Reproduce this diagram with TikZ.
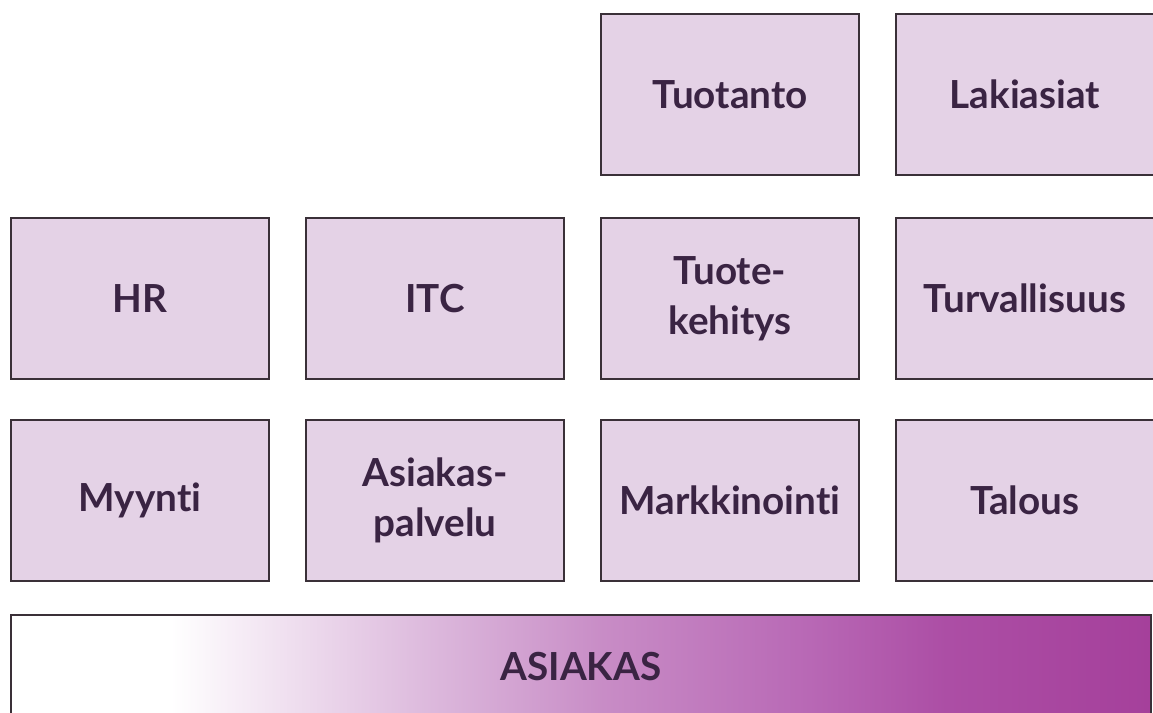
\documentclass[tikz,border=0pt]{standalone}
\usepackage{fontspec}
\setmainfont{Lato}[Ligatures=NoCommon]
\usetikzlibrary{positioning}
\definecolor{laatikko}{HTML}{E4D2E6}
\definecolor{reuna}{HTML}{3A3038}
\definecolor{teksti}{HTML}{3A2443}
\definecolor{vaalea}{HTML}{DCB8DC}
\definecolor{keski}{HTML}{C88CC6}
\definecolor{tumma}{HTML}{B868B5}
\definecolor{syva}{HTML}{AC4EA5}
\definecolor{violetti}{HTML}{A5409B}
\pgfdeclarehorizontalshading{asiakasliuku}{100bp}{color(0bp)=(white); color(32bp)=(white); color(43.5bp)=(vaalea); color(51bp)=(keski); color(60bp)=(tumma); color(66bp)=(syva); color(75bp)=(violetti); color(100bp)=(violetti)}
\tikzset{
	every node/.style={
		font=\fontsize{22}{28.5}\selectfont\bfseries,
		text=teksti
	},
	osasto/.style={
		shape=rectangle,
		minimum width=5.16cm,
		minimum height=3.22cm,
		inner sep=0.15cm,
		text width=4.8cm,
		text centered,
		fill=laatikko,
		draw=reuna,
		line width=1.1pt,
		outer sep=0pt
	},
	asiakaspalkki/.style={
		shape=rectangle,
		minimum width=22.8cm,
		minimum height=2.08cm,
		shading=asiakasliuku,
		draw=reuna,
		line width=1.1pt,
		outer sep=0pt
	}
}

\begin{document}
\begin{tikzpicture}[x=0.02cm,y=-0.02cm]
	
	\useasboundingbox (0,0) rectangle (1153,713);
	\clip (0,0) rectangle (1153,713);
	
	% ylin rivi
	\node[osasto, anchor=north west] (tuotanto) at (601,14) {Tuotanto};
	\node[osasto, right=0.74cm of tuotanto] (lakiasiat) {Lakiasiat};
	
	% keskirivi
	\node[osasto, below=0.86cm of tuotanto] (tuotekehitys) {Tuote-\\kehitys};
	\node[osasto, right=0.74cm of tuotekehitys] (turvallisuus) {Turvallisuus};
	\node[osasto, left=0.74cm of tuotekehitys] (itc) {ITC};
	\node[osasto, left=0.74cm of itc] (hr) {HR};
	
	% alin rivi
	\node[osasto, below=0.82cm of hr] (myynti) {Myynti};
	\node[osasto, below=0.82cm of itc] (asiakaspalvelu) {Asiakas-\\palvelu};
	\node[osasto, below=0.82cm of tuotekehitys] (markkinointi) {Markkinointi};
	\node[osasto, below=0.82cm of turvallisuus] (talous) {Talous};
	
	\node[asiakaspalkki, anchor=north west] (asiakas) at ([yshift=-0.68cm]myynti.south west) {ASIAKAS};
	
\end{tikzpicture}
\end{document}
